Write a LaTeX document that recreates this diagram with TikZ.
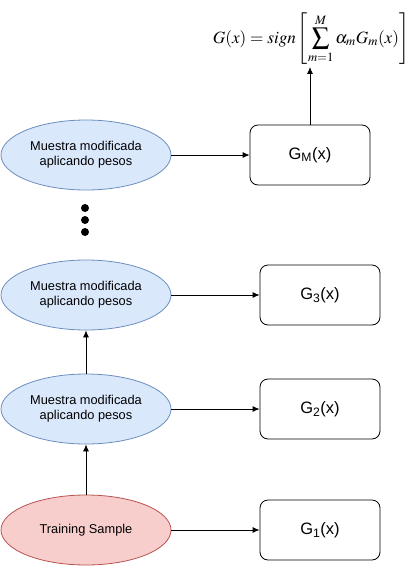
\documentclass[tikz,border=0pt]{standalone}
\usepackage{mathptmx}
\usepackage{fontspec}
\setmainfont{Liberation Sans}
\usetikzlibrary{shapes.geometric,arrows.meta}
\definecolor{bluefill}{HTML}{DAE8FC}
\definecolor{bluestroke}{HTML}{6C8EBF}
\definecolor{redfill}{HTML}{F8CECC}
\definecolor{redstroke}{HTML}{B85450}
\begin{document}
\begin{tikzpicture}[x=1pt,y=-1pt,
  sample/.style={ellipse,draw=bluestroke,fill=bluefill,line width=0.8pt,minimum width=170pt,minimum height=70pt,inner sep=0pt,align=center,font=\fontsize{12.8}{15}\selectfont},
  train/.style={sample,draw=redstroke,fill=redfill},
  classifier/.style={draw,rounded corners=8pt,minimum width=120pt,minimum height=60pt,inner sep=0pt,font=\fontsize{16.5}{19}\selectfont,line width=0.8pt},
  conn/.style={-{Latex[length=7pt,width=6pt]},line width=0.8pt},
  dot/.style={circle,fill=black,inner sep=0pt,minimum size=8pt}]
\useasboundingbox (0,0) rectangle (416,566);
\node[sample] (e1) at (86,155) {Muestra modificada\\aplicando pesos};
\node[sample] (e2) at (86,295) {Muestra modificada\\aplicando pesos};
\node[sample] (e3) at (86,409) {Muestra modificada\\aplicando pesos};
\node[train] (e4) at (86,530) {Training Sample};
\node[classifier] (gm) at (310,155) {G\textsubscript{M}(x)};
\node[classifier] (g3) at (320,295) {G\textsubscript{3}(x)};
\node[classifier] (g2) at (320,409) {G\textsubscript{2}(x)};
\node[classifier] (g1) at (320,530) {G\textsubscript{1}(x)};
\node[dot] (d1) at (85,208) {};
\node[dot] (d2) at (85,220) {};
\node[dot] (d3) at (85,232) {};
\node[inner sep=2pt,font=\fontsize{17.2}{21}\selectfont] (f) at (311,39)
  {$\displaystyle G(x) = sign\left[\sum_{m=1}^{M}\alpha_m G_m(x)\right]$};
\draw[conn] (e1) -- (gm);
\draw[conn] (e2) -- (g3);
\draw[conn] (e3) -- (g2);
\draw[conn] (e4) -- (g1);
\draw[conn] (e4) -- (e3);
\draw[conn] (e3) -- (e2);
\draw[conn] (gm.north) -- (gm.north |- f.south);
\end{tikzpicture}
\end{document}
